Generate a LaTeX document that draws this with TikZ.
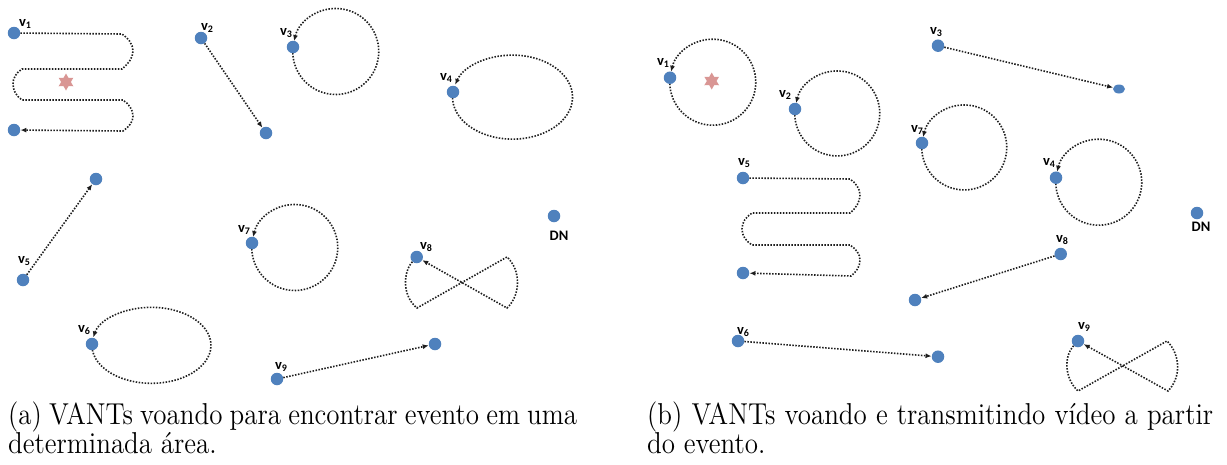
\documentclass[tikz,border=0pt]{standalone}
\usepackage{fontspec}
\usepackage{graphicx}
\usetikzlibrary{arrows.meta,shapes.geometric}
\newfontfamily\labfont{Carlito}
\newfontfamily\capfont{lmroman12-regular.otf}
\definecolor{dotblue}{RGB}{79,129,189}
\definecolor{starpink}{RGB}{217,150,148}
\definecolor{trajcol}{RGB}{30,30,30}
\newcommand\vlab[1]{v\raisebox{-2.5pt}{\fontsize{10}{10}\selectfont #1}}
\pgfdeclarelayer{bg}
\pgfsetlayers{bg,main}
\begin{document}
\begin{tikzpicture}[x=1pt,y=-1pt,
  uav/.style={circle,fill=dotblue,inner sep=0pt,minimum size=12.5pt},
  traj/.style={draw=trajcol,line width=1.6pt,dash pattern=on 1.5pt off 1.5pt,-{Latex[length=6pt,width=5pt]}},
  lab/.style={font=\labfont\bfseries\fontsize{14.5}{14.5}\selectfont,inner sep=0pt},
  event/.style={star,star points=6,star point ratio=1.75,fill=starpink,inner sep=0pt,minimum size=17pt},
  captext/.style={font=\capfont\fontsize{27}{28}\selectfont,inner sep=0pt,anchor=base west}]
\useasboundingbox (0,0) rectangle (1227,464);

% ---------------- panel (a) ----------------
\node[uav] (av1) at (14,33) {};
\node[uav] (av1e) at (14,130) {};
\node[event] (aev) at (66,82) {};
\node[uav] (av2) at (201,38) {};
\node[uav] (av2e) at (266,133) {};
\node[uav] (av3) at (293,47) {};
\node[uav] (av4) at (453,92) {};
\node[uav] (av5) at (23,280) {};
\node[uav] (av5e) at (96,179) {};
\node[uav] (av6) at (92,344) {};
\node[uav] (av7) at (252,243) {};
\node[uav] (av8) at (416.7,257) {};
\node[uav] (av9) at (277,379) {};
\node[uav] (av9e) at (435,344) {};
\node[uav] (adn) at (554,216) {};

\node[lab] (lav1) at (25,24) {\vlab1};
\node[lab] (lav2) at (207,28) {\vlab2};
\node[lab] (lav3) at (286,33) {\vlab3};
\node[lab] (lav4) at (446,78) {\vlab4};
\node[lab] (lav5) at (24,261) {\vlab5};
\node[lab] (lav6) at (84,330) {\vlab6};
\node[lab] (lav7) at (244,230) {\vlab7};
\node[lab] (lav8) at (426,247) {\vlab8};
\node[lab] (lav9) at (281,367) {\vlab9};
\node[lab] (ladn) at (559,236) {DN};

% ---------------- panel (b) ----------------
\node[uav] (bv1) at (670,77.7) {};
\node[event] (bev) at (711.7,81) {};
\node[uav] (bv2) at (795,109) {};
\node[uav] (bv3) at (938,45.7) {};
\node[ellipse,fill=dotblue,inner sep=0pt,minimum width=12pt,minimum height=9pt] (bv3e) at (1119,89) {};
\node[uav] (bv7) at (922,143) {};
\node[uav] (bv4) at (1056,177.7) {};
\node[uav] (bdn) at (1197,213) {};
\node[uav] (bv5) at (743,178) {};
\node[uav] (bv5e) at (743,273) {};
\node[uav] (bv8) at (1060.7,254) {};
\node[uav] (bv8e) at (915,300) {};
\node[uav] (bv6) at (738,341) {};
\node[uav] (bv6e) at (938,356.7) {};
\node[uav] (bv9) at (1078,341) {};

\node[lab] (lbv1) at (663,63) {\vlab1};
\node[lab] (lbv2) at (785,95) {\vlab2};
\node[lab] (lbv3) at (936,32) {\vlab3};
\node[lab] (lbv7) at (917,130) {\vlab7};
\node[lab] (lbv4) at (1049,163) {\vlab4};
\node[lab] (lbdn) at (1201,227) {DN};
\node[lab] (lbv8) at (1062,240) {\vlab8};
\node[lab] (lbv9) at (1084,327) {\vlab9};
\node[lab] (lbv5) at (744,163) {\vlab5};
\node[lab] (lbv6) at (743,332) {\vlab6};

\begin{pgfonlayer}{bg}
% panel (a) trajectories
\draw[traj] (av1) -- (122,34) .. controls (128,38) and (133,44) .. (133,51)
  .. controls (133,58) and (128,64) .. (122,69) -- (22,69)
  .. controls (16,73) and (13,78) .. (13,84) .. controls (13,90) and (16,96) .. (22,100)
  -- (123,100) .. controls (129,104) and (133,110) .. (133,116)
  .. controls (133,122) and (129,127) .. (123,131) -- (av1e);
\draw[traj] (av2) -- (av2e);
\draw[traj] (av3.center) arc[start angle=186, delta angle=-352, radius=43];
\draw[traj] (av4.center) arc[start angle=187, delta angle=-350, x radius=60, y radius=42];
\draw[traj] (av5) -- (av5e);
\draw[traj] (av6.center) arc[start angle=182, delta angle=-350, x radius=59.5, y radius=38];
\draw[traj] (av7.center) arc[start angle=186, delta angle=-352, radius=43];
\draw[traj] (av8) .. controls (403,272) and (402,296) .. (417,308) -- (507,257)
  .. controls (521,270) and (521,295) .. (507,308) -- (av8);
\draw[traj] (av9) -- (av9e);
% panel (b) trajectories
\draw[traj] (bv1.center) arc[start angle=186, delta angle=-352, radius=43];
\draw[traj] (bv2.center) arc[start angle=186, delta angle=-352, radius=42.5];
\draw[traj] (bv7.center) arc[start angle=186, delta angle=-352, radius=42.5];
\draw[traj] (bv4.center) arc[start angle=186, delta angle=-352, radius=43];
\draw[traj] (bv3) -- (bv3e);
\draw[traj] (bv5) -- (850,179) .. controls (856,183) and (860,189) .. (860,195)
  .. controls (860,202) and (856,208) .. (850,213) -- (752,213)
  .. controls (746,217) and (742,222) .. (742,229) .. controls (742,236) and (746,241) .. (752,245)
  -- (850,245) .. controls (856,249) and (860,254) .. (860,260)
  .. controls (860,267) and (856,272) .. (851,276) -- (bv5e);
\draw[traj] (bv8) -- (bv8e);
\draw[traj] (bv6) -- (bv6e);
\draw[traj] (bv9) .. controls (1064,356) and (1064,378) .. (1078,391) -- (1167,341)
  .. controls (1181,355) and (1181,378) .. (1168,391) -- (bv9);
\end{pgfonlayer}

% captions
\node[captext] (capa1) at (8,424.5) {\scalebox{1}[1.12]{\makebox[569pt][s]{(a) VANTs voando para encontrar evento em uma}}};
\node[captext] (capa2) at (8,453) {\scalebox{1}[1.12]{determinada área.}};
\node[captext] (capb1) at (647,424.5) {\scalebox{1}[1.12]{\makebox[566pt][s]{(b) VANTs voando e transmitindo vídeo a partir}}};
\node[captext] (capb2) at (647,453) {\scalebox{1}[1.12]{do evento.}};
\end{tikzpicture}
\end{document}
